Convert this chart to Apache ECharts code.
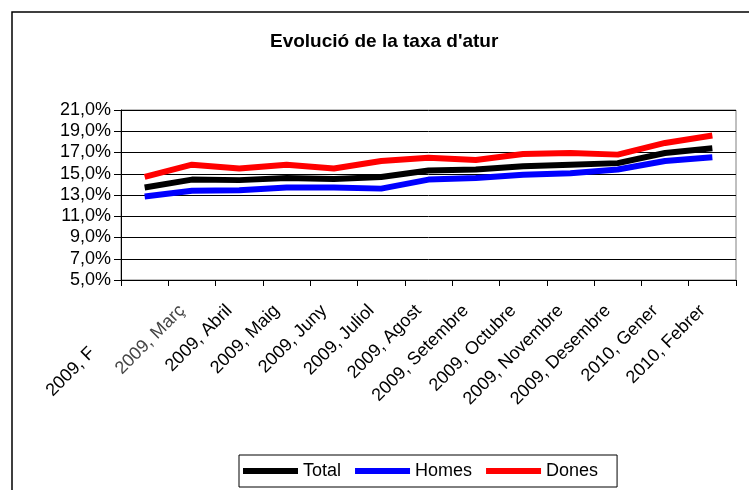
<!DOCTYPE html>
<html>
<head>
<meta charset="utf-8">
<script src="https://cdn.jsdelivr.net/npm/echarts@6/dist/echarts.min.js"></script>
<style>
  html, body { margin: 0; padding: 0; background: #fff; }
  #chart { width: 749px; height: 490px; }
</style>
</head>
<body>
<div id="chart"></div>
<script>
// dades llegides del gràfic (taxa d'atur, %)
const months = ['2009, F', '2009, Març', '2009, Abril', '2009, Maig', '2009, Juny', '2009, Juliol',
  '2009, Agost', '2009, Setembre', '2009, Octubre', '2009, Novembre', '2009, Desembre',
  '2010, Gener', '2010, Febrer'];
const total = [13.7, 14.45, 14.4, 14.6, 14.5, 14.7, 15.3, 15.4, 15.7, 15.85, 16.0, 16.95, 17.4];
const homes = [12.85, 13.4, 13.45, 13.7, 13.7, 13.6, 14.45, 14.6, 14.9, 15.05, 15.4, 16.2, 16.55];
const dones = [14.7, 15.85, 15.5, 15.85, 15.5, 16.2, 16.5, 16.3, 16.85, 16.95, 16.8, 17.9, 18.6];
const yTicks = [5, 7, 9, 11, 13, 15, 17, 19, 21];

const font = 'Liberation Sans, Arial, sans-serif';

const chart = echarts.init(document.getElementById('chart'));

const option = {
  animation: false,
  title: {
    text: "Evolució de la taxa d'atur",
    left: 270,
    top: 32,
    padding: 0,
    textStyle: { fontFamily: font, fontSize: 19, fontWeight: 'bold', color: '#000' }
  },
  legend: {
    data: ['Total', 'Homes', 'Dones'],
    left: 239,
    top: 455,
    orient: 'horizontal',
    icon: 'rect',
    itemWidth: 55,
    itemHeight: 6,
    itemGap: 14,
    padding: [7, 19, 7, 4],
    borderColor: '#000',
    borderWidth: 1,
    textStyle: { fontFamily: font, fontSize: 18, color: '#000' }
  },
  grid: {
    left: 121,
    right: 13,
    top: 110,
    bottom: 210,
    show: true,
    borderColor: '#808080',
    borderWidth: 1
  },
  xAxis: {
    type: 'category',
    boundaryGap: true,
    data: months.map((m, i) => {
      if (i === 0) return { value: m, textStyle: { padding: [0, 74, 0, 0] } };
      if (i === 1) return { value: m, textStyle: { color: '#444' } };
      return m;
    }),
    axisLine: { lineStyle: { color: '#000', width: 1 } },
    axisTick: { show: true, length: 6, lineStyle: { color: '#000' } },
    axisLabel: {
      rotate: 45,
      interval: 0,
      margin: 18,
      padding: [0, 14, 0, 0],
      fontFamily: font,
      fontSize: 18,
      color: '#000'
    }
  },
  yAxis: {
    type: 'value',
    min: yTicks[0],
    max: yTicks[yTicks.length - 1],
    interval: 2,
    axisLine: { show: true, lineStyle: { color: '#000', width: 1 } },
    axisTick: { show: true, length: 7, lineStyle: { color: '#000' } },
    splitLine: { show: true, lineStyle: { color: '#000', width: 1 } },
    axisLabel: {
      margin: 10,
      fontFamily: font,
      fontSize: 18,
      color: '#000',
      formatter: v => v.toFixed(1).replace('.', ',') + '%'
    }
  },
  graphic: [{
    type: 'rect',
    shape: { x: 12, y: 12, width: 800, height: 600 },
    style: { fill: 'none', stroke: '#000', lineWidth: 1.5 },
    z: -1
  }],
  series: [
    { name: 'Total', type: 'line', data: total, showSymbol: false, color: '#000',
      lineStyle: { width: 6, color: '#000' } },
    { name: 'Homes', type: 'line', data: homes, showSymbol: false, color: '#0000ff',
      lineStyle: { width: 6, color: '#0000ff' } },
    { name: 'Dones', type: 'line', data: dones, showSymbol: false, color: '#ff0000',
      lineStyle: { width: 6, color: '#ff0000' } }
  ]
};

chart.setOption(option);
</script>
</body>
</html>
